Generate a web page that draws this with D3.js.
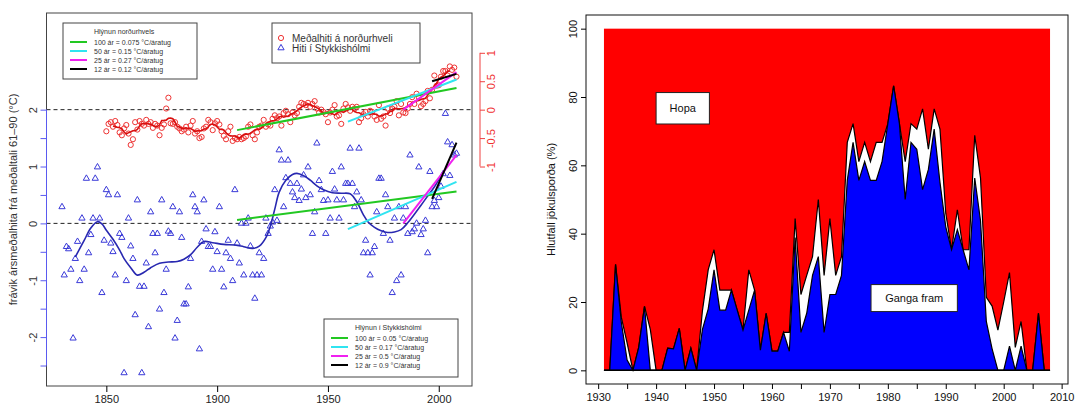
<!DOCTYPE html>
<html lang="is">
<head>
<meta charset="utf-8">
<title>Hlýnun og jökulsporðar</title>
<script src="https://d3js.org/d3.v7.min.js"></script>
<style>
  body { margin: 0; background: #fff; }
  svg text { font-family: "Liberation Sans", Arial, sans-serif; }
</style>
</head>
<body>
<script>
// ---------- left panel data ----------
// Northern hemisphere mean anomaly (red circles), one value per year from 1850
const nhFirstYear = 1850;
const nhAnom = [
  -0.38, -0.25, -0.22, -0.30, -0.20, -0.27, -0.40, -0.45, -0.33, -0.27,
  -0.42, -0.62, -0.52, -0.22, -0.35, -0.20, -0.25, -0.28, -0.18, -0.25,
  -0.22, -0.32, -0.25, -0.28, -0.45, -0.32, -0.26, 0.02, 0.21, -0.24,
  -0.25, -0.22, -0.30, -0.33, -0.38, -0.35, -0.30, -0.40, -0.28, -0.20,
  -0.42, -0.38, -0.50, -0.48, -0.33, -0.30, -0.18, -0.22, -0.36, -0.24,
  -0.20, -0.26, -0.38, -0.46, -0.52, -0.38, -0.30, -0.55, -0.50, -0.52,
  -0.48, -0.52, -0.50, -0.47, -0.30, -0.26, -0.45, -0.52, -0.40, -0.30,
  -0.28, -0.18, -0.30, -0.26, -0.28, -0.16, -0.10, -0.15, -0.12, -0.28,
  -0.06, -0.02, -0.08, -0.22, -0.05, -0.10, -0.06, 0.05, 0.12, 0.10,
  0.08, 0.12, 0.05, 0.10, 0.15, 0.02, -0.05, 0.00, -0.04, -0.08,
  -0.22, -0.05, 0.00, 0.08, -0.12, -0.10, -0.25, 0.02, 0.10, 0.04,
  -0.02, 0.05, 0.02, 0.05, -0.22, -0.15, -0.08, -0.04, -0.12, -0.02,
  -0.04, -0.12, -0.18, 0.08, -0.16, -0.12, -0.28, 0.02, -0.06, 0.02,
  0.05, 0.15, -0.10, 0.10, -0.05, -0.06, 0.02, 0.10, 0.22, 0.10,
  0.28, 0.22, 0.06, 0.10, 0.15, 0.33, 0.20, 0.35, 0.60, 0.42,
  0.43, 0.58, 0.68, 0.68, 0.60, 0.76, 0.70, 0.74, 0.58
];

// Stykkisholmur anomaly (blue triangles), one value per year from 1830
const stykFirstYear = 1830;
const stykAnom = [
  0.29, -0.91, -0.41, -0.45, -0.81, -2.02, -0.62, -0.32, -1.01, 0.09,
  -0.81, 0.79, -0.52, -0.20, 0.09, 0.79, 0.99, 0.09, -1.22, -0.30,
  0.59, 0.50, -0.35, -0.50, -0.91, 0.50, -0.18, -0.25, -2.63, -1.01,
  0.09, -0.40, -0.62, -1.61, 0.41, -1.11, -2.63, -1.11, -0.70, -1.82,
  0.20, -0.18, -0.52, -0.18, -1.51, 0.41, -1.22, -0.81, -0.14, -0.18,
  0.29, -2.02, -1.71, 0.20, -0.25, -1.42, -1.42, -1.12, -0.62, 0.50,
  0.29, 0.20, -2.21, -0.32, 0.41, -0.10, -0.41, -0.41, -0.81, -0.15,
  -0.50, 0.29, -0.81, -1.12, -0.52, -0.30, -0.62, -1.01, 0.59, -0.35,
  -0.70, 0.00, -0.91, 0.00, 0.09, -0.40, -0.91, -1.32, -0.91, -0.52,
  -0.91, -0.62, 0.09, -0.18, -0.05, 0.02, 0.59, 0.05, 1.29, 1.11,
  0.29, 0.80, 1.11, 0.70, 0.55, 0.45, 0.70, 0.40, 0.60, 0.85,
  0.45, 0.99, 0.50, -0.18, 0.20, 1.41, 0.75, 0.59, 0.40, -0.18,
  0.41, 0.09, 0.91, 0.60, 0.41, 0.09, 0.99, 0.41, 0.70, 0.70,
  1.32, 0.70, 0.29, 0.55, 1.32, 0.41, -0.52, -0.30, -0.52, -0.91,
  -0.52, -0.41, 0.20, 0.79, 0.79, -0.18, 0.50, 0.29, -0.30, -1.22,
  0.09, -1.01, 0.29, -0.91, 0.09, 0.29, -0.18, 1.20, -0.15, -0.10,
  0.00, 0.99, -0.20, -0.10, 0.05, -0.52, 0.91, 0.29, 0.40, 0.29,
  0.45, 0.65, 0.87, 1.93, 1.43, 0.84, 1.38, 1.20, 1.23
];

// smoothed Stykkisholmur curve [year, value]
const stykSmooth = [
  [1836, -0.59], [1840, -0.30], [1843, -0.08], [1846, 0.03], [1848, -0.01],
  [1850, -0.12], [1853, -0.28], [1856, -0.47], [1858, -0.62], [1861, -0.78],
  [1864, -0.91], [1867, -0.86], [1870, -0.78], [1874, -0.70], [1878, -0.68],
  [1882, -0.67], [1885, -0.63], [1888, -0.55], [1891, -0.42], [1894, -0.32],
  [1898, -0.34], [1903, -0.37], [1908, -0.38], [1912, -0.41], [1916, -0.44],
  [1919, -0.40], [1922, -0.25], [1924, -0.05], [1926, 0.25], [1928, 0.55],
  [1931, 0.76], [1934, 0.86], [1936, 0.88], [1939, 0.84], [1942, 0.76],
  [1945, 0.66], [1948, 0.59], [1952, 0.54], [1956, 0.53], [1960, 0.52],
  [1963, 0.38], [1966, 0.15], [1968, 0.03], [1971, -0.07], [1974, -0.13],
  [1977, -0.16], [1980, -0.15], [1983, -0.11], [1986, 0.01], [1989, 0.16],
  [1992, 0.32], [1995, 0.48], [1998, 0.64], [2001, 0.84]
];

// trend lines: [start year, end year, value at start, value at end]
const nhTrends = [
  [1909, 2008, -0.36, 0.38],
  [1959, 2008, -0.21, 0.53],
  [1984, 2008, 0.00, 0.66],
  [1997, 2008, 0.50, 0.63]
];
const stykTrends = [
  [1909, 2008, 0.06, 0.56],
  [1959, 2008, -0.10, 0.73],
  [1984, 2008, 0.00, 1.20],
  [1997, 2008, 0.43, 1.42]
];

const nhLegendTitle = "Hlýnun norðurhvels";
const nhLegend = ["100 ár = 0.075 °C/áratug", "50 ár = 0.15 °C/áratug",
                  "25 ár = 0.27 °C/áratug", "12 ár = 0.12 °C/áratug"];
const stykLegendTitle = "Hlýnun í Stykkishólmi";
const stykLegend = ["100 ár = 0.05 °C/áratug", "50 ár = 0.17 °C/áratug",
                    "25 ár = 0.5 °C/áratug", "12 ár = 0.9 °C/áratug"];
const seriesLegend = ["Meðalhiti á norðurhveli", "Hiti í Stykkishólmi"];
const trendColours = ["#22c822", "#30e4f0", "#f020f0", "#000000"];

const leftXTicks = [1850, 1900, 1950, 2000];
const leftYTicks = [-2.5, -2, -1.5, -1, -0.5, 0, 0.5, 1, 1.5, 2];
const redTicks = [-1, -0.5, 0, 0.5, 1];
const leftYTitle = "frávik ársmeðalhita frá meðaltali 61–90 (°C)";

// ---------- right panel data ----------
// share of glacier termini (%) per year from 1931
const fjFirstYear = 1931;
// advancing
const fjAdvance = [
  0, 0, 31, 14, 3, 0, 6.7, 18.7, 0, 0,
  0, 6.5, 6.3, 12.3, 0, 6.5, 0, 12, 18, 29.4,
  17.6, 17.6, 23.5, 17.6, 11.8, 17.6, 23.5, 5.9, 16.7, 5.6,
  5.6, 11.1, 5.6, 38.9, 11.1, 16.7, 27.8, 33.3, 11.1, 22.2,
  22.2, 27.8, 55.6, 66.7, 55.6, 61.1, 55.6, 55.6, 61.1, 72.2,
  83.3, 72.2, 50, 66.7, 64.7, 52.9, 58.8, 70.6, 55, 42,
  35.3, 41.2, 35.3, 29.4, 56.3, 43.8, 14.3, 6.3, 0, 0,
  7.1, 0, 7.1, 0, 0, 16.7, 0, 0
];
// advancing + stationary
const fjAdvStat = [
  0, 0, 31, 15.5, 8, 0, 6.7, 18.7, 12, 0,
  0, 6.5, 6.3, 12.3, 0, 6.5, 0, 17.5, 29.5, 35.3,
  23.5, 23.5, 23.5, 17.6, 11.8, 29.4, 23.5, 5.9, 16.7, 5.6,
  5.6, 11.1, 11.1, 44.4, 22.2, 27.8, 33.3, 50, 27.8, 44.4,
  27.8, 33.3, 66.7, 72.2, 61.1, 66.7, 61.1, 66.7, 66.7, 72.2,
  83.3, 72.2, 61.1, 72.2, 70.6, 76.5, 64.7, 76.5, 70.6, 46,
  35.3, 47, 35.3, 35.3, 68.8, 56.3, 21.4, 18.8, 11.8, 20,
  28.6, 6.7, 14.3, 0, 0, 16.7, 0, 0
];
const fjXTicks = [1930, 1935, 1940, 1945, 1950, 1955, 1960, 1965, 1970, 1975,
                  1980, 1985, 1990, 1995, 2000, 2005, 2010];
const fjYTicks = [0, 20, 40, 60, 80, 100];
const fjYTitle = "Hlutfall jökulsporða (%)";
const fjLabels = ["Hopa", "Ganga fram"];

// ---------- svg ----------
var w = 1075, h = 405;
var svg = d3.select("body").append("svg").attr("width", w).attr("height", h);
svg.append("rect").attr("width", w).attr("height", h).attr("fill", "white");

// ================= left panel =================
var L = { left: 46.5, right: 472, top: 13, bottom: 386 };
var x = d3.scaleLinear().domain([1823, 2015]).range([L.left, L.right]);
var y = d3.scaleLinear().domain([-2.86, 3.70]).range([L.bottom, L.top]);
// red axis is shifted by 2 degrees against the blue one
var yR = d3.scaleLinear().domain([-4.86, 1.70]).range([L.bottom, L.top]);

var left = svg.append("g");

// dashed zero lines
[y(0), yR(0)].forEach(function(py) {
  left.append("line").attr("x1", L.left).attr("x2", L.right)
    .attr("y1", py).attr("y2", py)
    .attr("stroke", "#222").attr("stroke-dasharray", "4,3").attr("stroke-width", 1);
});

// red circles
var nh = nhAnom.map(function(v, i) { return { year: nhFirstYear + i, v: v }; });
left.append("g").selectAll("circle").data(nh).enter().append("circle")
  .attr("cx", function(d) { return x(d.year); })
  .attr("cy", function(d) { return yR(d.v); })
  .attr("r", 2.6).attr("fill", "none").attr("stroke", "#ee3333").attr("stroke-width", 1);

// red running mean (7 years)
var nhSmooth = nh.map(function(d, i) {
  return (i >= 3 && i < nh.length - 3)
    ? { year: d.year, v: d3.mean(nhAnom.slice(i - 3, i + 4)) } : null;
});
left.append("path").datum(nhSmooth)
  .attr("d", d3.line().defined(function(d) { return d != null; })
    .x(function(d) { return x(d.year); }).y(function(d) { return yR(d.v); }))
  .attr("fill", "none").attr("stroke", "#d81010").attr("stroke-width", 1.6);

// blue triangles
var st = stykAnom.map(function(v, i) { return { year: stykFirstYear + i, v: v }; });
var tri = d3.symbol().type(d3.symbolTriangle).size(17);
left.append("g").selectAll("path").data(st).enter().append("path")
  .attr("d", tri)
  .attr("transform", function(d) { return "translate(" + x(d.year) + "," + y(d.v) + ")"; })
  .attr("fill", "none").attr("stroke", "#3a3ad8").attr("stroke-width", 1);

// blue smooth curve
left.append("path").datum(stykSmooth)
  .attr("d", d3.line().curve(d3.curveCatmullRom.alpha(0.5))
    .x(function(d) { return x(d[0]); }).y(function(d) { return y(d[1]); }))
  .attr("fill", "none").attr("stroke", "#2828b0").attr("stroke-width", 1.6);

// trend lines
function drawTrends(trends, ys) {
  trends.forEach(function(t, i) {
    left.append("line")
      .attr("x1", x(t[0])).attr("y1", ys(t[2]))
      .attr("x2", x(t[1])).attr("y2", ys(t[3]))
      .attr("stroke", trendColours[i]).attr("stroke-width", 2);
  });
}
drawTrends(nhTrends, yR);
drawTrends(stykTrends, y);

// box
left.append("rect").attr("x", L.left).attr("y", L.top)
  .attr("width", L.right - L.left).attr("height", L.bottom - L.top)
  .attr("fill", "none").attr("stroke", "#444").attr("stroke-width", 1);

// x axis
var xAxis = left.append("g").attr("transform", "translate(0," + L.bottom + ")")
  .call(d3.axisBottom(x).tickValues(leftXTicks).tickFormat(d3.format("d")).tickSize(6));
xAxis.select(".domain").remove();
xAxis.selectAll("text").attr("y", 9).attr("font-size", 11).attr("fill", "#222");

// blue y axis
var yAxis = left.append("g").attr("transform", "translate(" + L.left + ",0)")
  .call(d3.axisLeft(y).tickValues(leftYTicks).tickSize(6)
    .tickFormat(function(d) { return Number.isInteger(d) ? (d < 0 ? "-" + (-d) : d) : ""; }));
yAxis.select(".domain").remove();
yAxis.selectAll("line").attr("stroke", "#5a5af0");
yAxis.append("line").attr("y1", y(-2.5)).attr("y2", y(2)).attr("stroke", "#5a5af0");
yAxis.selectAll("text").attr("x", null).attr("dy", null).attr("text-anchor", "middle")
  .attr("transform", "translate(-10,0) rotate(-90)").attr("font-size", 11).attr("fill", "#333");

// red y axis
var rAxis = left.append("g").attr("transform", "translate(480,0)")
  .call(d3.axisRight(yR).tickValues(redTicks).tickSize(5)
    .tickFormat(function(d) { return d < 0 ? "-" + (-d) : d; }));
rAxis.select(".domain").remove();
rAxis.selectAll("line").attr("stroke", "#f04040");
rAxis.append("line").attr("y1", yR(-1)).attr("y2", yR(1)).attr("stroke", "#f04040");
rAxis.selectAll("text").attr("x", null).attr("dy", null).attr("text-anchor", "middle")
  .attr("transform", "translate(15,0) rotate(-90)").attr("font-size", 11).attr("fill", "#f03030");

// y title
left.append("text").attr("transform", "translate(17," + ((L.top + L.bottom) / 2) + ") rotate(-90)")
  .attr("text-anchor", "middle").attr("font-size", 11).attr("fill", "#333").text(leftYTitle);

// trend legends
function trendLegend(bx, by, bw, bh, title, labels) {
  var g = left.append("g").attr("transform", "translate(" + bx + "," + by + ")");
  g.append("rect").attr("width", bw).attr("height", bh)
    .attr("fill", "white").attr("stroke", "#444").attr("stroke-width", 1);
  g.append("text").attr("x", 31).attr("y", 11).attr("font-size", 7).attr("fill", "#333").text(title);
  labels.forEach(function(lab, i) {
    var ry = 19 + i * 9;
    g.append("line").attr("x1", 7).attr("x2", 24).attr("y1", ry).attr("y2", ry)
      .attr("stroke", trendColours[i]).attr("stroke-width", 2);
    g.append("text").attr("x", 31).attr("y", ry + 2.5).attr("font-size", 7)
      .attr("fill", "#333").text(lab);
  });
}
trendLegend(63, 23, 134, 56, nhLegendTitle, nhLegend);
trendLegend(324, 319, 134, 58, stykLegendTitle, stykLegend);

// series legend
var sl = left.append("g").attr("transform", "translate(272,23)");
sl.append("rect").attr("width", 148).attr("height", 40)
  .attr("fill", "white").attr("stroke", "#444").attr("stroke-width", 1);
sl.append("circle").attr("cx", 9).attr("cy", 15).attr("r", 2.6)
  .attr("fill", "none").attr("stroke", "#ee3333");
sl.append("path").attr("d", tri).attr("transform", "translate(9,25)")
  .attr("fill", "none").attr("stroke", "#3a3ad8");
seriesLegend.forEach(function(lab, i) {
  sl.append("text").attr("x", 20).attr("y", 18.5 + i * 10).attr("font-size", 10)
    .attr("fill", "#333").text(lab);
});

// ================= right panel =================
var R = { left: 586, right: 1068, top: 15, bottom: 384 };
var fx = d3.scaleLinear().domain([1927.9, 2011.1]).range([R.left, R.right]);
var fy = d3.scaleLinear().domain([-4, 104]).range([R.bottom, R.top]);
var right = svg.append("g");

var fj = fjAdvance.map(function(v, i) {
  return { year: fjFirstYear + i, adv: v, tot: fjAdvStat[i] };
});
var firstYr = fj[0].year, lastYr = fj[fj.length - 1].year;

// retreating share fills up to 100 %
right.append("rect").attr("x", fx(firstYr)).attr("y", fy(100))
  .attr("width", fx(lastYr) - fx(firstYr)).attr("height", fy(0) - fy(100))
  .attr("fill", "#ff0000");

right.append("path").datum(fj)
  .attr("d", d3.area().x(function(d) { return fx(d.year); })
    .y0(fy(0)).y1(function(d) { return fy(d.tot); }))
  .attr("fill", "white").attr("stroke", "black").attr("stroke-width", 1.2)
  .attr("stroke-linejoin", "miter");
right.append("path").datum(fj)
  .attr("d", d3.area().x(function(d) { return fx(d.year); })
    .y0(fy(0)).y1(function(d) { return fy(d.adv); }))
  .attr("fill", "#0000ff").attr("stroke", "black").attr("stroke-width", 1.2);
right.append("line").attr("x1", fx(firstYr)).attr("x2", fx(lastYr))
  .attr("y1", fy(0)).attr("y2", fy(0)).attr("stroke", "black").attr("stroke-width", 1.5);

// label boxes
function labelBox(x0, y0, bw, bh, txt) {
  right.append("rect").attr("x", x0).attr("y", y0).attr("width", bw).attr("height", bh)
    .attr("fill", "white").attr("stroke", "#222").attr("stroke-width", 1);
  right.append("text").attr("x", x0 + bw / 2).attr("y", y0 + bh / 2 + 4)
    .attr("text-anchor", "middle").attr("font-size", 11).attr("fill", "#111").text(txt);
}
labelBox(fx(1940), fy(81.3), fx(1949.2) - fx(1940), fy(72.1) - fy(81.3), fjLabels[0]);
labelBox(fx(1977.1), fy(25.1), fx(1992) - fx(1977.1), fy(17.2) - fy(25.1), fjLabels[1]);

// box
right.append("rect").attr("x", R.left).attr("y", R.top)
  .attr("width", R.right - R.left).attr("height", R.bottom - R.top)
  .attr("fill", "none").attr("stroke", "#111").attr("stroke-width", 1);

var fxAxis = right.append("g").attr("transform", "translate(0," + R.bottom + ")")
  .call(d3.axisBottom(fx).tickValues(fjXTicks).tickSize(5)
    .tickFormat(function(d) { return d % 10 === 0 ? d : ""; }));
fxAxis.select(".domain").remove();
fxAxis.selectAll("text").attr("y", 9).attr("font-size", 11).attr("fill", "#111");

var fyAxis = right.append("g").attr("transform", "translate(" + R.left + ",0)")
  .call(d3.axisLeft(fy).tickValues(fjYTicks).tickSize(5));
fyAxis.select(".domain").remove();
fyAxis.selectAll("text").attr("x", null).attr("dy", null).attr("text-anchor", "middle")
  .attr("transform", "translate(-9,0) rotate(-90)").attr("font-size", 11).attr("fill", "#111");

right.append("text").attr("transform", "translate(555," + ((R.top + R.bottom) / 2) + ") rotate(-90)")
  .attr("text-anchor", "middle").attr("font-size", 11).attr("fill", "#111").text(fjYTitle);
</script>
</body>
</html>
